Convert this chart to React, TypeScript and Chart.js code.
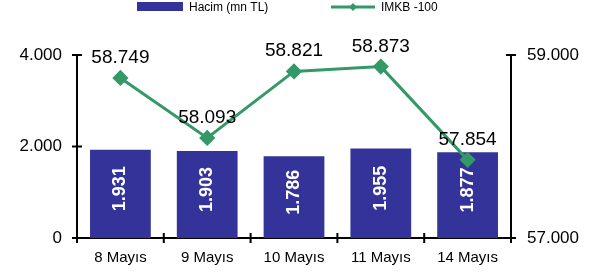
import React, { useEffect, useRef } from "react";
import { Chart, registerables } from "chart.js";

Chart.register(...registerables);

const categories = ["8 Mayıs", "9 Mayıs", "10 Mayıs", "11 Mayıs", "14 Mayıs"];
const volumeValues = [1931, 1903, 1786, 1955, 1877];
const indexValues = [58749, 58093, 58821, 58873, 57854];
const volumeLabel = "Hacim (mn TL)";
const indexLabel = "IMKB -100";
const leftTicks = [0, 2000, 4000];
const rightTicks = [57000, 59000];

const BAR_COLOR = "#333399";
const LINE_COLOR = "#339966";
const FONT = "'Liberation Sans', Arial, sans-serif";

const fmt = (n: number) => String(n).replace(/\B(?=(\d{3})+(?!\d))/g, ".");

const crossTicks = {
  id: "crossTicks",
  afterDraw(chart: any) {
    const ctx = chart.ctx;
    const { y, y1, x } = chart.scales;
    ctx.save();
    ctx.strokeStyle = "#000";
    ctx.lineWidth = 2;
    ctx.beginPath();
    leftTicks.forEach((v) => {
      const py = y.getPixelForValue(v);
      ctx.moveTo(x.left - 5, py);
      ctx.lineTo(x.left + 5, py);
    });
    rightTicks.forEach((v) => {
      const py = y1.getPixelForValue(v);
      ctx.moveTo(x.right - 5, py);
      ctx.lineTo(x.right + 5, py);
    });
    const n = categories.length;
    for (let i = 0; i <= n; i++) {
      const px = x.left + (i * (x.right - x.left)) / n;
      ctx.moveTo(px, y.bottom - 5);
      ctx.lineTo(px, y.bottom + 5);
    }
    ctx.stroke();
    ctx.restore();
  },
};

const dataLabels = {
  id: "dataLabels",
  afterDatasetsDraw(chart: any) {
    const ctx = chart.ctx;
    ctx.save();
    const barMeta = chart.getDatasetMeta(0);
    ctx.fillStyle = "#fff";
    ctx.font = `bold 18px ${FONT}`;
    ctx.textAlign = "center";
    ctx.textBaseline = "middle";
    barMeta.data.forEach((el: any, i: number) => {
      const cy = (el.y + el.base) / 2 - 5;
      ctx.save();
      ctx.translate(el.x, cy);
      ctx.rotate(-Math.PI / 2);
      ctx.fillText(fmt(volumeValues[i]), 0, 0);
      ctx.restore();
    });
    const lineMeta = chart.getDatasetMeta(1);
    ctx.fillStyle = "#000";
    ctx.font = `19px ${FONT}`;
    ctx.textBaseline = "alphabetic";
    lineMeta.data.forEach((el: any, i: number) => {
      ctx.fillText(fmt(indexValues[i]), el.x, el.y - 15);
    });
    ctx.restore();
  },
};

const customLegend = {
  id: "customLegend",
  afterDraw(chart: any) {
    const ctx = chart.ctx;
    ctx.save();
    ctx.fillStyle = BAR_COLOR;
    ctx.fillRect(137, 2, 46, 9);
    ctx.fillStyle = "#000";
    ctx.font = `12px ${FONT}`;
    ctx.textBaseline = "middle";
    ctx.textAlign = "left";
    ctx.fillText(chart.data.datasets[0].label, 189, 8);
    ctx.strokeStyle = LINE_COLOR;
    ctx.lineWidth = 3;
    ctx.beginPath();
    ctx.moveTo(331, 7);
    ctx.lineTo(375, 7);
    ctx.stroke();
    ctx.fillStyle = LINE_COLOR;
    ctx.beginPath();
    ctx.moveTo(353, 3);
    ctx.lineTo(357, 7);
    ctx.lineTo(353, 11);
    ctx.lineTo(349, 7);
    ctx.closePath();
    ctx.fill();
    ctx.fillStyle = "#000";
    ctx.fillText(chart.data.datasets[1].label, 381, 8);
    ctx.restore();
  },
};

export default function App() {
  const ref = useRef<HTMLCanvasElement>(null);
  useEffect(() => {
    if (!ref.current) return;
    const chart = new Chart(ref.current, {
      type: "bar",
      data: {
        labels: categories,
        datasets: [
          {
            type: "bar",
            label: volumeLabel,
            data: volumeValues,
            backgroundColor: BAR_COLOR,
            yAxisID: "y",
            order: 1,
            categoryPercentage: 1,
            barPercentage: 0.7,
          },
          {
            type: "line",
            label: indexLabel,
            data: indexValues,
            borderColor: LINE_COLOR,
            backgroundColor: LINE_COLOR,
            borderWidth: 3,
            pointStyle: "rectRot",
            pointRadius: 6,
            pointBackgroundColor: LINE_COLOR,
            pointBorderColor: LINE_COLOR,
            yAxisID: "y1",
            order: 0,
            tension: 0,
          },
        ],
      } as any,
      options: {
        responsive: true,
        maintainAspectRatio: false,
        animation: false,
        layout: { padding: { top: 55, left: 0, right: 0, bottom: 0 } },
        plugins: {
          legend: { display: false },
          tooltip: { enabled: false },
        },
        scales: {
          x: {
            offset: true,
            grid: { display: false, drawTicks: false },
            border: { display: true, color: "#000", width: 2 },
            ticks: { color: "#000", font: { family: FONT, size: 15 }, padding: 11 },
            afterFit: (s: any) => { s.height = 39; },
          },
          y: {
            position: "left",
            min: 0,
            max: 4000,
            grid: { display: false, drawTicks: false },
            border: { display: true, color: "#000", width: 2 },
            ticks: {
              color: "#000",
              font: { family: FONT, size: 17 },
              padding: 15,
              callback: (v: any) => fmt(Number(v)),
            },
            afterBuildTicks: (s: any) => { s.ticks = leftTicks.map((v) => ({ value: v })); },
            afterFit: (s: any) => { s.width = 77; },
          },
          y1: {
            position: "right",
            min: 57000,
            max: 59000,
            grid: { display: false, drawTicks: false },
            border: { display: true, color: "#000", width: 2 },
            ticks: {
              color: "#000",
              font: { family: FONT, size: 17 },
              padding: 16,
              callback: (v: any) => fmt(Number(v)),
            },
            afterBuildTicks: (s: any) => { s.ticks = rightTicks.map((v) => ({ value: v })); },
            afterFit: (s: any) => { s.width = 94; },
          },
        },
      } as any,
      plugins: [crossTicks, dataLabels, customLegend],
    });
    return () => chart.destroy();
  }, []);
  return (
    <div style={{ position: "absolute", left: 0, top: 0, width: 605, height: 277, background: "#fff" }}>
      <canvas ref={ref} />
    </div>
  );
}
